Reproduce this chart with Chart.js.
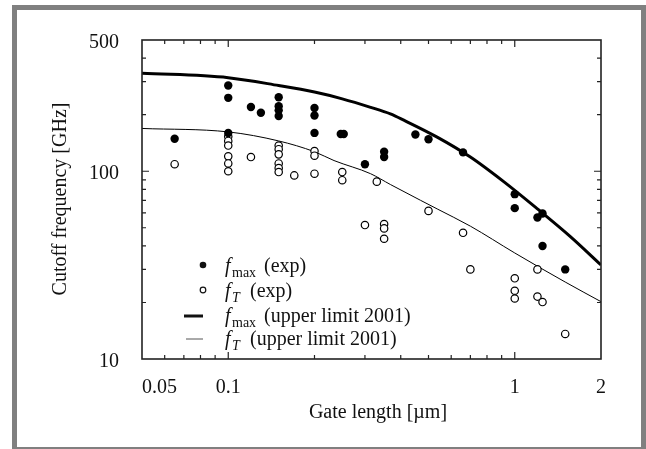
<!DOCTYPE html>
<html>
<head>
<meta charset="utf-8">
<script src="https://cdn.jsdelivr.net/npm/chart.js@4"></script>
<style>
  html, body { margin: 0; padding: 0; background: #fff; }
  #frame {
    position: absolute; left: 12px; top: 5px; width: 634px; height: 444px;
    box-sizing: border-box; border: 5px solid #808080; border-bottom-width: 2px;
  }
  #c { position: absolute; left: 0; top: 0; }
</style>
</head>
<body>
<div id="frame"></div>
<canvas id="c" width="646" height="449"></canvas>
<script>
// ---- data (gate length in µm, frequency in GHz) ----
const fmaxExpX = [0.065, 0.1, 0.1, 0.1, 0.12, 0.13, 0.15, 0.15, 0.15, 0.15, 0.2, 0.2, 0.2, 0.247, 0.253, 0.3, 0.35, 0.35, 0.45, 0.5, 0.66, 1, 1, 1.2, 1.25, 1.25, 1.5];
const fmaxExpY = [149, 286, 246, 160, 220, 205, 248, 222, 211, 197, 217, 198, 160, 158, 158, 109, 127, 119, 157, 148, 126, 75.5, 63.6, 56.7, 59.6, 40, 30];

const ftExpX = [0.065, 0.1, 0.1, 0.1, 0.1, 0.1, 0.1, 0.12, 0.15, 0.15, 0.15, 0.15, 0.15, 0.15, 0.17, 0.2, 0.2, 0.2, 0.25, 0.25, 0.33, 0.3, 0.35, 0.35, 0.35, 0.5, 0.66, 0.7, 1, 1, 1, 1.2, 1.2, 1.25, 1.5];
const ftExpY = [109, 153, 145, 137, 120, 110, 100, 119, 137, 131, 123, 110, 104, 99, 95, 128, 121, 97, 99, 89.6, 88, 51.7, 52.3, 49.6, 43.7, 61.5, 47, 30, 26.9, 23.1, 21, 30, 21.5, 20.1, 13.6];

const fmaxLimX = [0.05, 0.1, 0.15, 0.2, 0.25, 0.314, 0.368, 0.41, 0.536, 0.7, 0.915, 1.2, 1.56, 2];
const fmaxLimY = [333, 315, 286, 264, 243, 219, 202, 187, 152, 119, 88, 63, 45, 31.7];

const ftLimX = [0.05, 0.1, 0.15, 0.2, 0.234, 0.314, 0.368, 0.469, 0.536, 0.7, 1, 1.5, 2];
const ftLimY = [169, 162, 145, 127, 114, 97, 85, 70, 63, 51, 36.7, 25.7, 20.2];

const xMajorTicks = [0.1, 1];
const xMinorTicks = [0.06, 0.07, 0.08, 0.09, 0.2, 0.3, 0.4, 0.5, 0.6, 0.7, 0.8, 0.9];
const yMajorTicks = [100];
const yMinorTicks = [20, 30, 40, 50, 60, 70, 80, 90, 200, 300, 400];
const xTickLabels = [[0.05, '0.05'], [0.1, '0.1'], [1, '1'], [2, '2']];
const yTickLabels = [[10, '10'], [100, '100'], [500, '500']];

const pts = (xs, ys) => xs.map((x, i) => ({ x, y: ys[i] }));
const FONT = '"Liberation Serif", "Times New Roman", serif';

// frame, inward ticks, labels and legend
const decor = {
  id: 'decor',
  afterDraw(chart) {
    const { ctx, chartArea: a, scales } = chart;
    const xs = scales.x, ys = scales.y;
    ctx.save();
    ctx.strokeStyle = '#222';
    ctx.lineWidth = 1.6;
    ctx.strokeRect(a.left, a.top, a.right - a.left, a.bottom - a.top);

    ctx.lineWidth = 1.2;
    ctx.beginPath();
    const xt = (v, len) => {
      const p = xs.getPixelForValue(v);
      ctx.moveTo(p, a.bottom); ctx.lineTo(p, a.bottom - len);
      ctx.moveTo(p, a.top); ctx.lineTo(p, a.top + len);
    };
    const yt = (v, len) => {
      const p = ys.getPixelForValue(v);
      ctx.moveTo(a.left, p); ctx.lineTo(a.left + len, p);
      ctx.moveTo(a.right, p); ctx.lineTo(a.right - len, p);
    };
    xMajorTicks.forEach(v => xt(v, 7));
    xMinorTicks.forEach(v => xt(v, 4));
    yMajorTicks.forEach(v => yt(v, 7));
    yMinorTicks.forEach(v => yt(v, 4));
    ctx.stroke();

    ctx.fillStyle = '#111';
    ctx.font = `20px ${FONT}`;
    ctx.textBaseline = 'middle';
    xTickLabels.forEach(([v, s], i) => {
      ctx.textAlign = i === 0 ? 'left' : 'center';
      const p = i === 0 ? a.left : xs.getPixelForValue(v);
      ctx.fillText(s, p, 388);
    });
    ctx.textAlign = 'right';
    yTickLabels.forEach(([v, s]) => ctx.fillText(s, 119, ys.getPixelForValue(v) + 3));

    ctx.textAlign = 'center';
    ctx.fillText('Gate length [\u00b5m]', 378, 413);
    ctx.save();
    ctx.translate(61, 199);
    ctx.rotate(-Math.PI / 2);
    ctx.fillText('Cutoff frequency [GHz]', 0, 0);
    ctx.restore();

    // legend
    const label = (y, sub, rest) => {
      ctx.textAlign = 'left';
      ctx.textBaseline = 'alphabetic';
      ctx.font = `italic 20px ${FONT}`;
      ctx.fillText('f', 225, y + 7);
      ctx.font = sub === 'T' ? `italic 14px ${FONT}` : `14px ${FONT}`;
      ctx.fillText(sub, 232, y + 12);
      ctx.font = `20px ${FONT}`;
      ctx.fillText(rest, sub === 'T' ? 250 : 264, y + 7);
    };
    ctx.beginPath(); ctx.arc(203, 265, 3.3, 0, Math.PI * 2); ctx.fill();
    ctx.beginPath(); ctx.arc(203, 290, 2.8, 0, Math.PI * 2);
    ctx.lineWidth = 1.2; ctx.strokeStyle = '#111'; ctx.stroke();
    ctx.lineWidth = 3; ctx.beginPath(); ctx.moveTo(184, 316); ctx.lineTo(203, 316); ctx.stroke();
    ctx.lineWidth = 1; ctx.strokeStyle = '#555';
    ctx.beginPath(); ctx.moveTo(186, 339); ctx.lineTo(203, 339); ctx.stroke();
    label(265, 'max', '(exp)');
    label(290, 'T', '(exp)');
    label(315, 'max', '(upper limit 2001)');
    label(338, 'T', '(upper limit 2001)');
    ctx.restore();
  }
};

new Chart(document.getElementById('c'), {
  type: 'scatter',
  data: {
    datasets: [
      { data: pts(fmaxExpX, fmaxExpY), order: 0, pointRadius: 4.2, pointBackgroundColor: '#000', pointBorderColor: '#000', pointBorderWidth: 0 },
      { data: pts(ftExpX, ftExpY), order: 0, pointRadius: 3.7, pointBackgroundColor: '#fff', pointBorderColor: '#000', pointBorderWidth: 1.2 },
      { data: pts(fmaxLimX, fmaxLimY), order: 1, showLine: true, pointRadius: 0, borderColor: '#000', borderWidth: 3, cubicInterpolationMode: 'monotone' },
      { data: pts(ftLimX, ftLimY), order: 1, showLine: true, pointRadius: 0, borderColor: '#000', borderWidth: 1, cubicInterpolationMode: 'monotone' }
    ]
  },
  options: {
    responsive: false,
    animation: false,
    layout: { padding: { left: 142, top: 40, right: 45, bottom: 90 } },
    plugins: { legend: { display: false }, tooltip: { enabled: false } },
    scales: {
      x: { type: 'logarithmic', min: 0.05, max: 2, display: false },
      y: { type: 'logarithmic', min: 10, max: 500, display: false }
    }
  },
  plugins: [decor]
});
</script>
</body>
</html>
